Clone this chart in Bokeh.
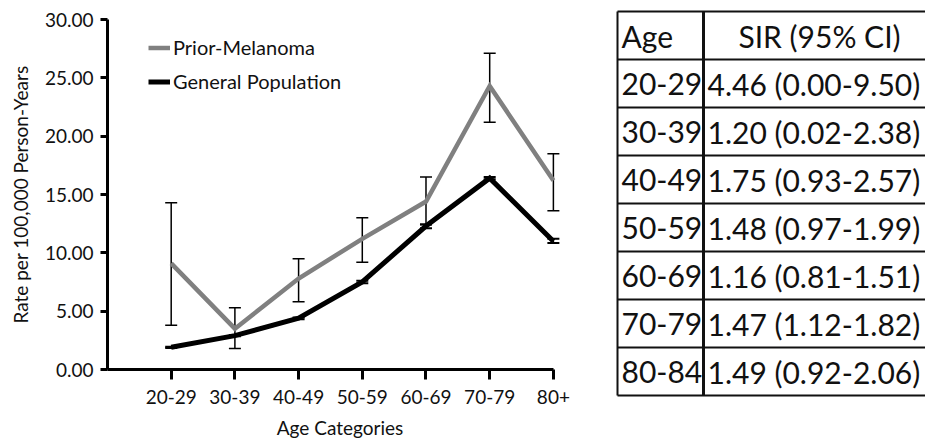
from bokeh.plotting import figure
from bokeh.models import (Range1d, FixedTicker, NumeralTickFormatter, Whisker, TeeHead,
                          ColumnDataSource, Legend, LegendItem)
from bokeh.layouts import row, column
from bokeh.embed import file_html
from bokeh.resources import INLINE
from bokeh.core.properties import value

# ---------------- data ----------------
age_categories = ["20-29", "30-39", "40-49", "50-59", "60-69", "70-79", "80+"]
prior_rate = [9.1, 3.5, 7.8, 11.2, 14.4, 24.3, 16.2]
prior_lower = [3.8, 1.8, 5.8, 9.2, 12.4, 21.2, 13.6]
prior_upper = [14.3, 5.3, 9.5, 13.0, 16.5, 27.1, 18.5]
general_rate = [1.9, 2.9, 4.4, 7.5, 12.3, 16.4, 11.0]
general_lower = [1.85, 2.85, 4.3, 7.4, 12.1, 16.3, 10.85]
general_upper = [1.95, 2.95, 4.45, 7.6, 12.45, 16.5, 11.2]
y_ticks = [0, 5, 10, 15, 20, 25, 30]

table_header = ["Age", "SIR (95% CI)"]
table_ages = ["20-29", "30-39", "40-49", "50-59", "60-69", "70-79", "80-84"]
table_sir = ["4.46 (0.00-9.50)", "1.20 (0.02-2.38)", "1.75 (0.93-2.57)",
             "1.48 (0.97-1.99)", "1.16 (0.81-1.51)", "1.47 (1.12-1.82)",
             "1.49 (0.92-2.06)"]

FONT = "Lato"
TXT = "#111111"
x_pos = [i + 1 for i in range(len(age_categories))]
n_cat = len(age_categories)
x_pad = 0.3  # room so the last error-bar cap is not clipped

# ---------------- chart ----------------
p = figure(width=608, height=441, x_range=Range1d(0, n_cat + x_pad),
           y_range=Range1d(0, 30), output_backend="svg", toolbar_location=None,
           min_border_left=107, min_border_right=36, min_border_top=19,
           min_border_bottom=72)
p.outline_line_color = None
p.xgrid.visible = False
p.ygrid.visible = False

src_p = ColumnDataSource(dict(x=x_pos, y=prior_rate, lo=prior_lower, hi=prior_upper))
src_g = ColumnDataSource(dict(x=x_pos, y=general_rate, lo=general_lower, hi=general_upper))

r1 = p.line("x", "y", source=src_p, line_color="#808080", line_width=4.5,
            line_join="miter")
r2 = p.line("x", "y", source=src_g, line_color="black", line_width=5,
            line_join="miter")

for src, lw in ((src_p, 1.5), (src_g, 2)):
    w = Whisker(base="x", lower="lo", upper="hi", source=src, dimension="height",
                line_color="black", line_width=1.5,
                upper_head=TeeHead(size=12, line_color="black", line_width=lw),
                lower_head=TeeHead(size=12, line_color="black", line_width=lw))
    p.add_layout(w)

xa = p.xaxis[0]
xa.ticker = FixedTicker(ticks=x_pos)
xa.major_label_overrides = {x: c for x, c in zip(x_pos, age_categories)}
xa.bounds = (0, n_cat)
xa.axis_label = "Age Categories"
xa.major_tick_out = 10
xa.major_label_standoff = 10
xa.axis_label_standoff = 9

ya = p.yaxis[0]
ya.ticker = FixedTicker(ticks=y_ticks)
ya.formatter = NumeralTickFormatter(format="0.00")
ya.axis_label = "Rate per 100,000 Person-Years"
ya.major_tick_out = 7
ya.major_label_standoff = 7
ya.axis_label_standoff = 10

for ax in (xa, ya):
    ax.axis_line_width = 3
    ax.axis_line_color = "black"
    ax.major_tick_line_width = 3
    ax.major_tick_line_color = "black"
    ax.major_tick_in = 0
    ax.minor_tick_line_color = None
    ax.major_label_text_font = FONT
    ax.major_label_text_font_size = "19px"
    ax.major_label_text_color = TXT
    ax.axis_label_text_font = FONT
    ax.axis_label_text_font_size = "19px"
    ax.axis_label_text_font_style = "normal"
    ax.axis_label_text_color = TXT

legend = Legend(items=[LegendItem(label="Prior-Melanoma", renderers=[r1]),
                       LegendItem(label="General Population", renderers=[r2])],
                location=(41, 276), orientation="vertical",
                label_text_font=FONT, label_text_font_size="20px",
                label_text_color=TXT,
                glyph_width=22, glyph_height=21, label_height=21,
                spacing=10, padding=0, margin=0, label_standoff=3,
                border_line_color=None, background_fill_alpha=0)
p.add_layout(legend)

# ---------------- table ----------------
n_rows = len(table_ages) + 1
TW, TH = 317, 441
row_h = 48.0
top_px = 11.0
t = figure(width=TW, height=TH, x_range=Range1d(0, TW),
           y_range=Range1d((TH - top_px) / row_h, -top_px / row_h),
           x_axis_type=None, y_axis_type=None, min_border=0,
           output_backend="svg", toolbar_location=None)
t.outline_line_color = None
t.xgrid.visible = False
t.ygrid.visible = False

col_x = [9, 95, 327]  # layout: left edge, divider, right edge (px)
rows = list(range(n_rows + 1))
t.segment(x0=[col_x[0]] * len(rows), x1=[col_x[2]] * len(rows), y0=rows, y1=rows,
          line_color=TXT, line_width=2)
t.segment(x0=[col_x[0], col_x[2]], x1=[col_x[0], col_x[2]], y0=[0, 0],
          y1=[n_rows, n_rows], line_color=TXT, line_width=2)
t.segment(x0=[col_x[1]], x1=[col_x[1]], y0=[0], y1=[n_rows],
          line_color=TXT, line_width=3)

centers = [i + 0.5 for i in range(1, n_rows)]
common = dict(text_font=value(FONT), text_font_size="30px", text_baseline="middle",
              text_color=TXT)
t.text(x=[col_x[0] + 4] * len(table_ages), y=centers, text=table_ages,
       text_align="left", **common)
t.text(x=[col_x[1] + 4] * len(table_sir), y=centers, text=table_sir,
       text_align="left", **common)
t.text(x=[col_x[0] + 4], y=[0.5], text=[table_header[0]], text_align="left", **common)
t.text(x=[(col_x[1] + col_x[2]) / 2], y=[0.5], text=[table_header[1]],
       text_align="center", **common)

layout = row(p, column(t))
open("out.html", "w").write(file_html(layout, INLINE))
